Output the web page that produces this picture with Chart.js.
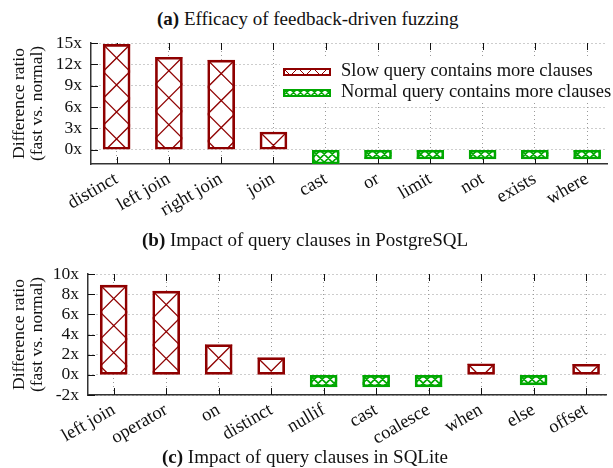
<!DOCTYPE html>
<html>
<head>
<meta charset="utf-8">
<script src="https://cdn.jsdelivr.net/npm/chart.js@4.4.0/dist/chart.umd.min.js"></script>
<style>
  body { margin: 0; width: 613px; height: 468px; background: #fff; position: relative; overflow: hidden; font-family: "Liberation Serif", serif; color: #111; }
  .cap { position: absolute; font-size: 19px; line-height: 22px; white-space: nowrap; }
  .box { position: absolute; left: 0; width: 613px; }
</style>
</head>
<body>
<div class="cap" style="left:157px; top:8px;"><b>(a)</b> Efficacy of feedback-driven fuzzing</div>
<div class="box" style="top:0; height:230px;"><canvas id="pgChart"></canvas></div>
<div class="cap" style="left:142px; top:229px;"><b>(b)</b> Impact of query clauses in PostgreSQL</div>
<div class="box" style="top:250px; height:200px;"><canvas id="liteChart"></canvas></div>
<div class="cap" style="left:162px; top:446px;"><b>(c)</b> Impact of query clauses in SQLite</div>

<script>
  // Dữ liệu PostgreSQL
  const pgClauses = ['distinct', 'left join', 'right join', 'join', 'cast', 'or', 'limit', 'not', 'exists', 'where'];
  const pgRatios = [14.8, 13.0, 12.6, 2.5, -2.0, -1.3, -1.3, -1.3, -1.3, -1.3];
  const pgTicks = [0, 3, 6, 9, 12, 15];

  // Dữ liệu SQLite
  const liteClauses = ['left join', 'operator', 'on', 'distinct', 'nullif', 'cast', 'coalesce', 'when', 'else', 'offset'];
  const liteRatios = [8.9, 8.3, 3.0, 1.7, -1.2, -1.2, -1.2, 1.1, -1.0, 1.05];
  const liteTicks = [-2, 0, 2, 4, 6, 8, 10];

  const legendLabels = ['Slow query contains more clauses', 'Normal query contains more clauses'];

  const RED = '#8f0000';
  const GREEN = '#00a800';
  const FONT = 'Liberation Serif';

  // Vẽ gạch chéo trong một hình chữ nhật
  function drawHatch(ctx, left, top, right, bottom, step, color, width) {
    const h = bottom - top;
    ctx.save();
    ctx.beginPath();
    ctx.rect(left, top, right - left, bottom - top);
    ctx.fillStyle = '#fff';
    ctx.fill();
    ctx.clip();
    ctx.strokeStyle = color;
    ctx.lineWidth = width;
    ctx.beginPath();
    const start = left - Math.ceil((h + step) / step) * step;
    for (let x = start; x <= right + h + step; x += step) {
      ctx.moveTo(x, top);
      ctx.lineTo(x + h, bottom);
      ctx.moveTo(x, top);
      ctx.lineTo(x - h, bottom);
    }
    ctx.stroke();
    ctx.restore();
  }

  // Vạch chia nhỏ hướng vào trong + nền gạch chéo cho cột
  const barPlugin = {
    id: 'hatchBars',
    beforeDatasetsDraw(chart) {
      const ctx = chart.ctx;
      const area = chart.chartArea;
      const xs = chart.scales.x;
      const ys = chart.scales.y;

      ctx.save();
      ctx.strokeStyle = '#111';
      ctx.lineWidth = 1;
      ctx.beginPath();
      xs.ticks.forEach(t => {
        const px = Math.round(xs.getPixelForValue(t.value)) + 0.5;
        ctx.moveTo(px, area.bottom);
        ctx.lineTo(px, area.bottom - 7);
        ctx.moveTo(px, area.top);
        ctx.lineTo(px, area.top + 7);
      });
      ys.ticks.forEach(t => {
        const py = Math.round(ys.getPixelForValue(t.value)) + 0.5;
        ctx.moveTo(area.left, py);
        ctx.lineTo(area.left + 7, py);
      });
      ctx.stroke();
      ctx.restore();

      const meta = chart.getDatasetMeta(0);
      const data = chart.data.datasets[0].data;
      meta.data.forEach((bar, i) => {
        const positive = data[i].y > 0;
        const left = bar.x - bar.width / 2;
        const right = bar.x + bar.width / 2;
        const top = Math.min(bar.y, bar.base);
        const bottom = Math.max(bar.y, bar.base);
        if (positive) {
          drawHatch(ctx, left, top, right, bottom, right - left, RED, 1.3);
        } else {
          drawHatch(ctx, left, top, right, bottom, 8, GREEN, 1.7);
        }
      });
    }
  };

  // Chú thích bên trong biểu đồ PostgreSQL
  const legendPlugin = {
    id: 'innerLegend',
    afterDraw(chart) {
      const ctx = chart.ctx;
      ctx.save();
      ctx.fillStyle = '#fff';
      ctx.fillRect(280, 59, 333, 42);
      const rows = [
        { y: 68, color: RED, step: 15, lw: 1, text: legendLabels[0], ty: 71.5 },
        { y: 89, color: GREEN, step: 7, lw: 1.4, text: legendLabels[1], ty: 92.5 }
      ];
      rows.forEach(r => {
        drawHatch(ctx, 283, r.y, 331, r.y + 8, r.step, r.color, r.lw);
        ctx.strokeStyle = r.color;
        ctx.lineWidth = 2;
        ctx.strokeRect(284, r.y + 1, 46, 6);
        ctx.fillStyle = '#111';
        ctx.font = '18.5px "' + FONT + '"';
        ctx.textBaseline = 'middle';
        ctx.textAlign = 'left';
        ctx.fillText(r.text, 341, r.ty);
      });
      ctx.restore();
    }
  };

  function makeChart(id, labels, values, yTicks, yMin, yMax, yWidth, pad, xHeight, withLegend) {
    const ctx = document.getElementById(id).getContext('2d');
    const borderOpts = { color: '#333', width: 1.5, dash: [1, 3] };

    return new Chart(ctx, {
      type: 'bar',
      data: {
        datasets: [{
          data: values.map((v, i) => ({ x: i, y: v })),
          backgroundColor: 'rgba(0,0,0,0)',
          borderColor: values.map(v => v > 0 ? RED : GREEN),
          borderWidth: 2,
          borderSkipped: false,
          barThickness: 27
        }]
      },
      options: {
        responsive: true,
        maintainAspectRatio: false,
        animation: false,
        layout: { padding: pad },
        plugins: {
          legend: { display: false },
          tooltip: { enabled: false }
        },
        scales: {
          x: {
            type: 'linear',
            offset: false,
            min: -0.49,
            max: 9.38,
            afterBuildTicks: s => { s.ticks = labels.map((_, i) => ({ value: i })); },
            afterFit: s => { s.height = xHeight; },
            ticks: {
              callback: (v, i) => labels[i],
              autoSkip: false,
              minRotation: 30,
              maxRotation: 30,
              padding: 4,
              color: '#111',
              font: { family: FONT, size: 18.5 }
            },
            grid: { color: '#9a9a9a', lineWidth: 1, drawTicks: false, offset: false },
            border: borderOpts
          },
          y: {
            min: yMin,
            max: yMax,
            afterBuildTicks: s => { s.ticks = yTicks.map(v => ({ value: v })); },
            afterFit: s => { s.width = yWidth; },
            ticks: {
              callback: v => v + 'x',
              autoSkip: false,
              padding: 9,
              color: '#111',
              font: { family: FONT, size: 17.5 }
            },
            grid: { color: '#9a9a9a', lineWidth: 1, drawTicks: false },
            border: borderOpts,
            title: {
              display: true,
              text: ['Difference ratio', '(fast vs. normal)'],
              color: '#111',
              font: { family: FONT, size: 17.5, lineHeight: 1.0 },
              padding: { top: 11, bottom: 0 }
            }
          }
        }
      },
      plugins: withLegend ? [barPlugin, legendPlugin] : [barPlugin]
    });
  }

  makeChart('pgChart', pgClauses, pgRatios, pgTicks, -2, 15, 91,
    { top: 43, right: 6, left: 0, bottom: 0 }, 66, true);
  makeChart('liteChart', liteClauses, liteRatios, liteTicks, -2, 10, 88,
    { top: 24, right: 7, left: 0, bottom: 0 }, 55, false);
</script>
</body>
</html>
